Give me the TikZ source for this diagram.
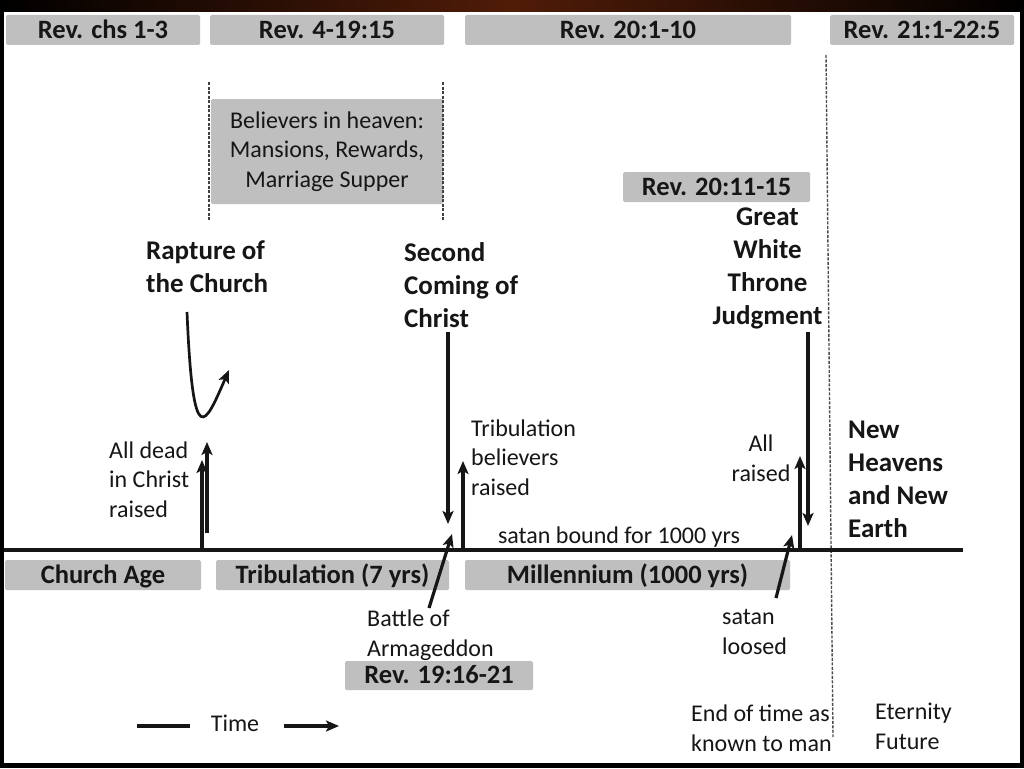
\documentclass[tikz,border=0pt]{standalone}
\usepackage{fontspec}
\setmainfont{Carlito}
\usetikzlibrary{arrows.meta}
\definecolor{boxgray}{RGB}{191,191,191}
\definecolor{ink}{RGB}{22,22,22}
\definecolor{rim}{RGB}{80,28,8}
\tikzstyle{arrow} = [->,>={Stealth[length=13pt,width=11pt,inset=3pt]},line width=3.2pt,ink]
\tikzstyle{revbox} = [fill=boxgray,text=ink,inner sep=0pt,rounded corners=1.5pt,text height=18pt,text depth=2pt,font=\fontsize{26.5}{31}\selectfont\bfseries]
\tikzstyle{event} = [inner sep=0pt,text=ink,align=left,font=\fontsize{27}{33}\selectfont\bfseries]
\tikzstyle{note} = [inner sep=0pt,text=ink,align=left,font=\fontsize{24}{29.5}\selectfont]
\tikzstyle{divider} = [dash pattern=on 3pt off 1.5pt,line width=1.1pt,black!75]

\begin{document}
\begin{tikzpicture}[x=1pt,y=-1pt]
        \useasboundingbox (0,0) rectangle (1024,768);
        \fill[black] (0,0) rectangle (1024,768);
        \shade[left color=black,right color=black,middle color=rim] (0,0) rectangle (1024,12);
        \fill[white] (4,12) rectangle (1020,763);

        \node[revbox, minimum width=194pt, minimum height=30pt] at (103,30) (revA) {Rev. chs 1-3};
        \node[revbox, minimum width=234pt, minimum height=30pt] at (327,30) (revB) {Rev. 4-19:15};
        \node[revbox, minimum width=326pt, minimum height=30pt] at (628,30) (revC) {Rev. 20:1-10};
        \node[revbox, minimum width=184pt, minimum height=30pt] at (922,30) (revD) {Rev. 21:1-22:5};
        \node[revbox, minimum width=187pt, minimum height=30pt] at (716.5,187) (revE) {Rev. 20:11-15};
        \node[revbox, minimum width=196pt, minimum height=30pt] at (103,575) (church) {Church Age};
        \node[revbox, minimum width=233pt, minimum height=30pt] at (332.5,575) (trib) {Tribulation (7 yrs)};
        \node[revbox, minimum width=325pt, minimum height=30pt] at (627.5,575) (mill) {Millennium (1000 yrs)};
        \node[revbox, minimum width=188pt, minimum height=29pt] at (439,675.5) (revF) {Rev. 19:16-21};
        \node[revbox, text height=, text depth=, font=\fontsize{24}{29.5}\selectfont, align=center, minimum width=232pt, minimum height=105pt] at (327,151.5) (heaven) {\raisebox{-3pt}{\parbox{220pt}{\centering Believers in heaven:\\Mansions, Rewards,\\Marriage Supper}}};

        \draw[divider] (209,82) coordinate (hvA) -- (209,220) coordinate (hvB);
        \draw[divider] (443,82) coordinate (hvC) -- (443,220) coordinate (hvD);
        \draw[divider, line width=1.4pt, black!70] (826,55) coordinate (endA) -- (833,737) coordinate (endB);

        \node[event, anchor=base west] at (146,292) (rapture) {Rapture of\\the Church};
        \node[event, anchor=base west] at (404,327) (second) {Second\\Coming of\\Christ};
        \node[event, anchor=base, align=center] at (767.5,324) (gwt) {Great\\White\\Throne\\Judgment};
        \node[event, anchor=base west] at (848,537.5) (newearth) {New\\Heavens\\and New\\Earth};

        \node[note, anchor=base west] at (109,517) (deadnote) {All dead\\in Christ\\raised};
        \node[note, anchor=base west] at (471,495) (tribnote) {Tribulation\\believers\\raised};
        \node[note, anchor=base, align=center] at (761,481) (allnote) {All\\raised};
        \node[note, anchor=base] at (619,543) (bound) {satan bound for 1000 yrs};
        \node[note, anchor=base west] at (367,656) (battle) {Battle of\\Armageddon};
        \node[note, anchor=base west] at (722,654) (loosed) {satan\\loosed};
        \node[note, anchor=base] at (235,731) (time) {Time};
        \node[note, anchor=base west] at (691,751) (endtime) {End of time as\\known to man};
        \node[note, anchor=base west] at (875,749) (eternity) {Eternity\\Future};

        \coordinate (tlstart) at (4,550);
        \coordinate (tlend) at (963,550);
        \draw[line width=4pt, ink] (tlstart) -- (tlend);

        \coordinate (deadAfoot) at (202,550);
        \coordinate (deadAtip) at (202,460);
        \coordinate (deadBfoot) at (207,533);
        \coordinate (deadBtip) at (207,442);
        \coordinate (rapstart) at (187,312);
        \coordinate (raptip) at (229,370);
        \coordinate (secondtop) at (448,332);
        \coordinate (secondtip) at (448,524);
        \coordinate (tribfoot) at (463,550);
        \coordinate (tribtip) at (463,461);
        \coordinate (battlefoot) at (429,608);
        \coordinate (battletip) at (452,534);
        \coordinate (gwttop) at (808,332);
        \coordinate (gwttip) at (808,526);
        \coordinate (allfoot) at (800,550);
        \coordinate (alltip) at (800,456);
        \coordinate (loosedfoot) at (776,598);
        \coordinate (loosedtip) at (792,535);
        \coordinate (timeA) at (137,726);
        \coordinate (timeB) at (190,726);
        \coordinate (timeC) at (284,726);
        \coordinate (timeD) at (339,726);

        \draw[arrow] (deadAfoot) -- (deadAtip);
        \draw[arrow] (deadBfoot) -- (deadBtip);
        \draw[arrow, line width=2.7pt] (rapstart) .. controls (193,455) and (205,425) .. (raptip);
        \draw[arrow] (secondtop) -- (secondtip);
        \draw[arrow] (tribfoot) -- (tribtip);
        \draw[arrow] (battlefoot) -- (battletip);
        \draw[arrow] (gwttop) -- (gwttip);
        \draw[arrow] (allfoot) -- (alltip);
        \draw[arrow] (loosedfoot) -- (loosedtip);
        \draw[line width=3.2pt, ink] (timeA) -- (timeB);
        \draw[arrow] (timeC) -- (timeD);
    \end{tikzpicture}
\end{document}
